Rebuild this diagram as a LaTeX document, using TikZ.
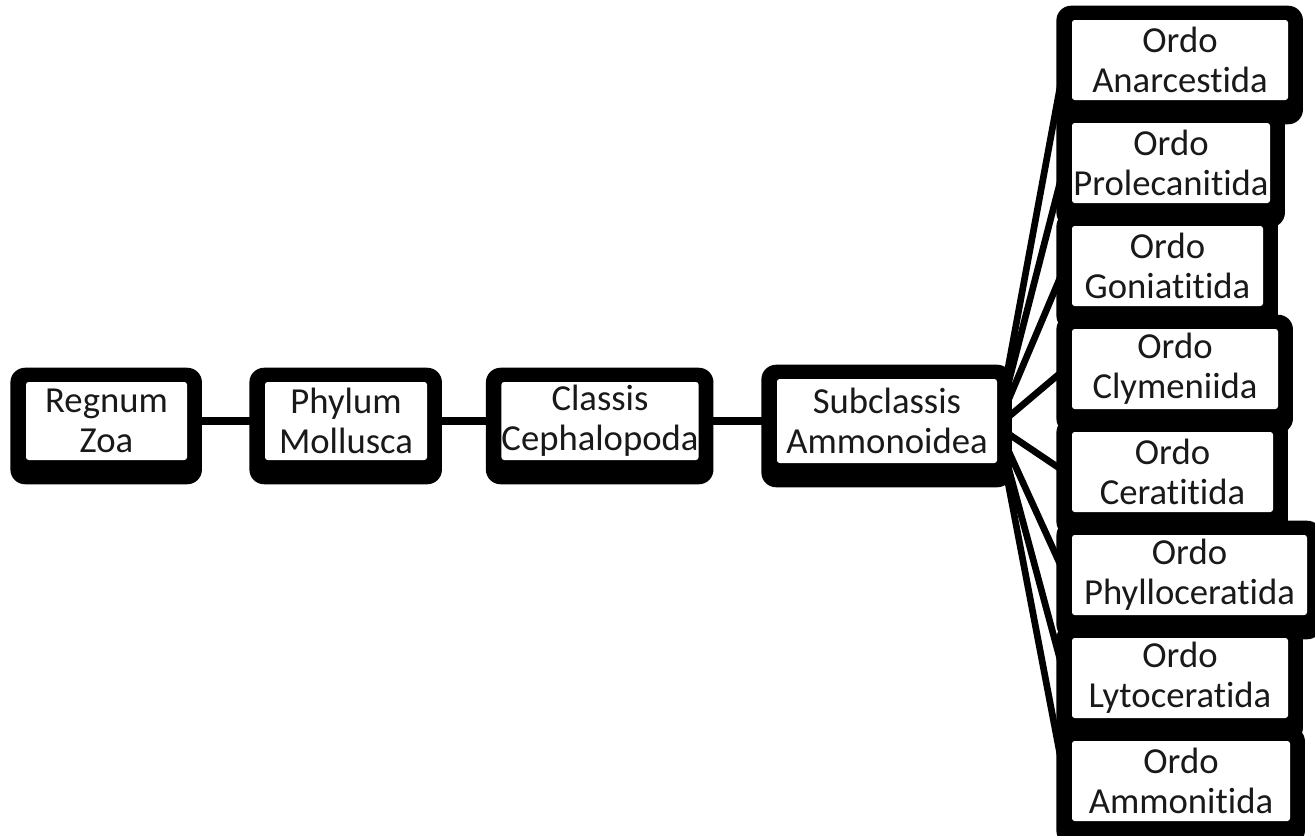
\documentclass[tikz,border=0pt]{standalone}
\usepackage{fontspec}
\setmainfont{Carlito}[Ligatures={NoCommon}]
\pgfdeclarelayer{bg}
\pgfdeclarelayer{mid}
\pgfsetlayers{bg,mid,main}
\tikzset{
  px/.style={x=0.75pt,y=-0.75pt},
  taxon/.style={draw=none,fill=white,rounded corners=2pt,inner sep=0pt,align=center,
    font=\fontsize{27.5}{30}\selectfont,text=black!90},
  backing/.style={fill=black,rounded corners=11pt},
  conn/.style={line width=6.5pt},
  fan/.style={line width=5pt},
}
\newcommand{\backbox}[1]{%
  \begin{pgfonlayer}{mid}
    \fill[backing] ([xshift=-11.5pt,yshift=10.5pt]#1.north west) rectangle ([xshift=11pt,yshift=-18pt]#1.south east);
  \end{pgfonlayer}}
\begin{document}
\begin{tikzpicture}[px]
\useasboundingbox (0,0) rectangle (1315,836);
% main chain
\node[taxon,minimum width=161*0.75pt,minimum height=78*0.75pt] (regnum) at (106.5,421) {Regnum\\Zoa};
\node[taxon,minimum width=162*0.75pt,minimum height=78*0.75pt] (phylum) at (346,421) {Phylum\\Mollusca};
\node[taxon,minimum width=196*0.75pt,minimum height=78*0.75pt] (classis) at (600,421) {Classis\\Cephalopoda};
\node[taxon,minimum width=220*0.75pt,minimum height=84*0.75pt] (sub) at (887,421) {Subclassis\\Ammonoidea};
% orders
\node[taxon,minimum width=216*0.75pt,minimum height=80*0.75pt] (o1) at (1180,60) {Ordo\\Anarcestida};
\node[taxon,minimum width=198*0.75pt,minimum height=80*0.75pt] (o2) at (1171,163) {Ordo\\Prolecanitida};
\node[taxon,minimum width=191*0.75pt,minimum height=80*0.75pt] (o3) at (1167.5,266) {Ordo\\Goniatitida};
\node[taxon,minimum width=206*0.75pt,minimum height=80*0.75pt] (o4) at (1175,369) {Ordo\\Clymeniida};
\node[taxon,minimum width=201*0.75pt,minimum height=80*0.75pt] (o5) at (1172.5,472) {Ordo\\Ceratitida};
\node[taxon,minimum width=235*0.75pt,minimum height=80*0.75pt] (o6) at (1189.5,575) {Ordo\\Phylloceratida};
\node[taxon,minimum width=216*0.75pt,minimum height=80*0.75pt] (o7) at (1180,678) {Ordo\\Lytoceratida};
\node[taxon,minimum width=218*0.75pt,minimum height=80*0.75pt] (o8) at (1181,781) {Ordo\\Ammonitida};
\foreach \n in {regnum,phylum,classis,sub,o1,o2,o3,o4,o5,o6,o7,o8}{\backbox{\n}}
\begin{pgfonlayer}{bg}
  \fill[white] (0,0) rectangle (1315,836);
  \draw[conn] (regnum) -- (phylum);
  \draw[conn] (phylum) -- (classis);
  \draw[conn] (classis) -- (sub);
  \foreach \o in {o1,o2,o3,o4,o5,o6,o7,o8}{
    \draw[fan] ([yshift=-4pt]sub.east) -- ([xshift=-5pt]\o.west);
  }
\end{pgfonlayer}
\end{tikzpicture}
\end{document}
